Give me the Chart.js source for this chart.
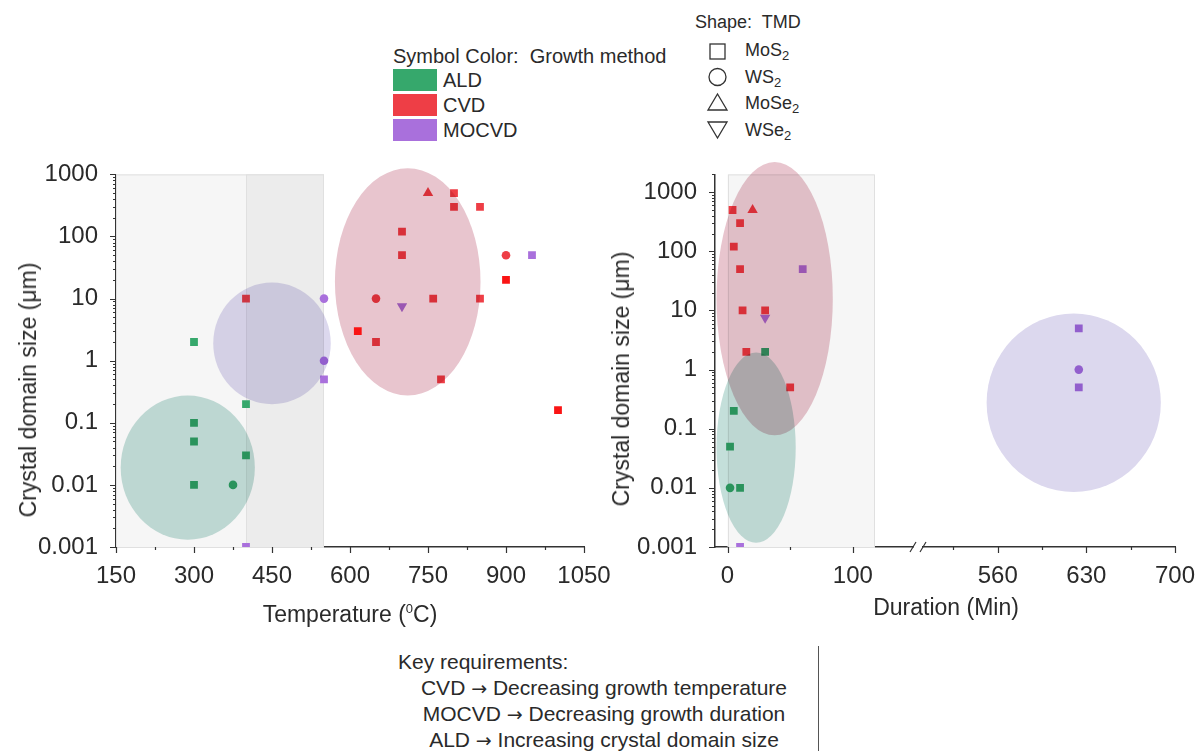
<!DOCTYPE html>
<html>
<head>
<meta charset="utf-8">
<script src="https://cdn.jsdelivr.net/npm/chart.js@4.4.0/dist/chart.umd.min.js"></script>
<style>
body { margin: 0; background: #fff; width: 1204px; height: 751px; overflow: hidden; position: relative;
       font-family: "Liberation Sans", Arial, sans-serif; color: #2a2a2a; }
.abs { position: absolute; white-space: nowrap; line-height: 24px; }
.box { position: absolute; width: 44px; height: 22px; }
.arr { font-family: "DejaVu Sans", sans-serif; font-size: 19px; }
sub { font-size: 13px; vertical-align: -4px; line-height: 0; }
sup { font-size: 13px; vertical-align: 9px; line-height: 0; }
canvas { position: absolute; }
</style>
</head>
<body>

<!-- legend: colour -->
<div class="abs" style="left:393px;top:44px;font-size:20px">Symbol Color:&nbsp; Growth method</div>
<div class="box" style="left:393px;top:69px;background:#36a86c"></div>
<div class="box" style="left:393px;top:94px;background:#ee3e46"></div>
<div class="box" style="left:393px;top:119px;background:#a970dc"></div>
<div class="abs" style="left:443px;top:68px;font-size:20px">ALD</div>
<div class="abs" style="left:443px;top:93px;font-size:20px">CVD</div>
<div class="abs" style="left:443px;top:118px;font-size:20px">MOCVD</div>

<!-- legend: shape -->
<div class="abs" style="left:695px;top:10px;font-size:18px">Shape:&nbsp; TMD</div>
<svg style="position:absolute;left:705px;top:38px" width="26" height="104">
  <rect x="5" y="6" width="15" height="15" fill="none" stroke="#333" stroke-width="1.3"/>
  <circle cx="12.5" cy="39" r="8.5" fill="none" stroke="#333" stroke-width="1.3"/>
  <polygon points="3,72 22,72 12.5,56" fill="none" stroke="#333" stroke-width="1.3"/>
  <polygon points="3,84 22,84 12.5,100" fill="none" stroke="#333" stroke-width="1.3"/>
</svg>
<div class="abs" style="left:745px;top:38px;font-size:18px">MoS<sub>2</sub></div>
<div class="abs" style="left:745px;top:65px;font-size:18px">WS<sub>2</sub></div>
<div class="abs" style="left:745px;top:91px;font-size:18px">MoSe<sub>2</sub></div>
<div class="abs" style="left:745px;top:118px;font-size:18px">WSe<sub>2</sub></div>

<canvas id="tempChart" width="620" height="500" style="left:0;top:150px;width:620px;height:500px"></canvas>
<canvas id="durChart" width="604" height="500" style="left:600px;top:150px;width:604px;height:500px"></canvas>

<!-- axis titles -->
<div class="abs" style="left:28px;top:390px;font-size:23px;transform:translate(-50%,-50%) rotate(-90deg)">Crystal domain size (&mu;m)</div>
<div class="abs" style="left:621px;top:379px;font-size:23px;transform:translate(-50%,-50%) rotate(-90deg)">Crystal domain size (&mu;m)</div>
<div class="abs" style="left:350px;top:614px;font-size:23px;transform:translate(-50%,-50%)">Temperature (<sup>0</sup>C)</div>
<div class="abs" style="left:946px;top:607px;font-size:23px;transform:translate(-50%,-50%)">Duration (Min)</div>

<!-- notes -->
<div class="abs" style="left:398px;top:650px;font-size:21px">Key requirements:</div>
<div class="abs" style="left:604px;top:675px;font-size:21px;line-height:25px;text-align:center;transform:translateX(-50%)">
CVD <span class="arr">&rarr;</span> Decreasing growth temperature<br>
MOCVD <span class="arr">&rarr;</span> Decreasing growth duration<br>
ALD <span class="arr">&rarr;</span> Increasing crystal domain size</div>
<div style="position:absolute;left:818px;top:646px;width:1px;height:105px;background:#555"></div>

<script>
// ticks -----------------------------------------
const sizeTicks = [0.001, 0.01, 0.1, 1, 10, 100, 1000];
const tempTicks = [150, 300, 450, 600, 750, 900, 1050];
const tempMinor = [225, 375, 525, 675, 825, 975];
const durTicksA = [0, 100];
const durMinorA = [50];
const durTicksB = [560, 630, 700];
const durMinorB = [525, 595, 665];

// temperature panel: [temperature C, domain size um]
const tempAldMoS2 = [[300, 2], [400, 0.2], [300, 0.1], [300, 0.05], [400, 0.03], [300, 0.01]];
const tempAldWS2 = [[375, 0.01]];
const tempCvdMoS2 = [[400, 10], [800, 500], [800, 300], [850, 300], [700, 120], [700, 50], [760, 10], [850, 10], [650, 2], [775, 0.5]];
const tempCvdWS2 = [[650, 10], [900, 50]];
const tempCvdMoSe2 = [[750, 500]];
const tempCvdFront = [[615, 3], [900, 20], [1000, 0.16]];   //drawn over the ovals
const tempMocvdMoS2 = [[550, 0.5], [950, 50], [400, 0.001]];
const tempMocvdWS2 = [[550, 10], [550, 1]];
const tempMocvdWSe2 = [[700, 7.5]];

// duration panel: [duration min, domain size um]
const durAldMoS2 = [[5, 0.2], [2, 0.05], [10, 0.01], [30, 2]];
const durAldWS2 = [[2, 0.01]];
const durCvdMoS2 = [[4, 500], [10, 300], [5, 120], [10, 50], [12, 10], [30, 10], [15, 2], [50, 0.5]];
const durCvdMoSe2 = [[20, 500]];
const durMocvdMoS2 = [[60, 50], [10, 0.001]];
const durMocvdWSe2 = [[30, 7.5]];
const durMocvdMoS2Long = [[624, 5], [624, 0.5]];
const durMocvdWS2Long = [[624, 1]];

// shaded windows [from, to]
const tempWindows = [[150, 550], [400, 550]];
const durWindows = [[0, 117]];

// ovals: [centre x, centre size, half width (x units), half height (decades)]
const tempOvalAld = [288, 0.019, 129, 1.16];
const tempOvalMocvd = [450, 1.9, 113, 0.98];
const tempOvalCvd = [711, 18.6, 140, 1.83];
const durOvalCvd = [37.6, 15.8, 46.4, 2.31];
const durOvalAld = [22.8, 0.048, 31.6, 1.61];
const durOvalMocvd = [620, 0.275, 68.8, 1.51];

const FONT = "'Liberation Sans', Arial, sans-serif";
const C = {ald: '#36a86c', cvd: '#ee3e46', cvdFront: '#fa1414', mocvd: '#a970dc'};
const OVAL = {ald: '#c4dfda', cvd: '#e8c5ce', mocvd: '#dcd8ee'};
const WINDOW = ['#f6f6f6', '#ececec'];

function ds(data, color, shape, xAxisID, order) {
    let r = 5.5, rot = 0;
    if (shape == 'circle') r = 4.3;
    if (shape == 'triangle') r = 6;
    if (shape == 'down') { shape = 'triangle'; r = 6; rot = 180; }
    return {
        data: data.map(p => ({x: p[0], y: p[1]})),
        backgroundColor: color, borderColor: color, borderWidth: 0,
        pointStyle: shape, pointRadius: r, pointRotation: rot,
        xAxisID: xAxisID || 'x', order: order === undefined ? 1 : order
    };
}

// shading, ovals (multiply, like the source), minor ticks, axis break
function decor(cfg) {
    function ovals(chart) {
        const ctx = chart.ctx, a = chart.chartArea, ys = chart.scales.y;
        ctx.save();
        ctx.beginPath(); ctx.rect(a.left, 0, chart.width - a.left, a.bottom); ctx.clip();
        ctx.globalCompositeOperation = 'multiply';
        cfg.ovals.forEach(o => {
            const xs = chart.scales[o.axis];
            const v = o.v;
            const cx = xs.getPixelForValue(v[0]);
            const rx = Math.abs(xs.getPixelForValue(v[0] + v[2]) - cx);
            const cy = ys.getPixelForValue(v[1]);
            const ry = Math.abs(ys.getPixelForValue(v[1] * Math.pow(10, v[3])) - cy);
            ctx.fillStyle = o.color;
            ctx.beginPath(); ctx.ellipse(cx, cy, rx, ry, 0, 0, Math.PI * 2); ctx.fill();
        });
        ctx.restore();
    }
    return {
        id: 'decor',
        beforeDatasetsDraw(chart) {
            const ctx = chart.ctx, a = chart.chartArea, xs = chart.scales[cfg.windowAxis];
            ctx.save();
            cfg.windows.forEach((w, i) => {
                const x0 = xs.getPixelForValue(w[0]), x1 = xs.getPixelForValue(w[1]);
                ctx.fillStyle = WINDOW[i];
                ctx.fillRect(x0, a.top, x1 - x0, a.bottom - a.top);
                ctx.strokeStyle = '#e0e0e0'; ctx.lineWidth = 1;
                ctx.strokeRect(Math.round(x0) + 0.5, a.top + 0.5, Math.round(x1 - x0) - 1, a.bottom - a.top);
            });
            ctx.restore();
        },
        beforeDatasetDraw(chart, args) {
            if (args.index === cfg.frontIndex) ovals(chart);
        },
        afterDatasetsDraw(chart) {
            if (cfg.frontIndex === undefined) ovals(chart);
        },
        afterDraw(chart) {
            const ctx = chart.ctx, a = chart.chartArea, ys = chart.scales.y;
            ctx.save();
            ctx.strokeStyle = '#333'; ctx.lineWidth = 1.2;
            ctx.beginPath();
            // y ticks
            for (let d = 0; d < sizeTicks.length; d++) {
                for (let m = 1; m < 10; m++) {
                    const v = sizeTicks[d] * m;
                    if (v > ys.max) continue;
                    const py = Math.round(ys.getPixelForValue(v)) + 0.5;
                    ctx.moveTo(a.left, py); ctx.lineTo(a.left - (m == 1 ? 6 : 3), py);
                }
            }
            // x ticks
            cfg.xticks.forEach(t => {
                const xs = chart.scales[t.axis];
                t.major.forEach(v => { const px = Math.round(xs.getPixelForValue(v)) + 0.5; ctx.moveTo(px, a.bottom); ctx.lineTo(px, a.bottom + 6); });
                t.minor.forEach(v => { const px = Math.round(xs.getPixelForValue(v)) + 0.5; ctx.moveTo(px, a.bottom); ctx.lineTo(px, a.bottom + 3); });
            });
            ctx.stroke();
            if (cfg.breakAxis) {
                const bx = chart.scales[cfg.breakAxis].right, by = a.bottom;
                ctx.fillStyle = '#fff';
                ctx.fillRect(bx - 4, by - 3, 8, 6);
                ctx.beginPath();
                ctx.moveTo(bx - 8, by + 5); ctx.lineTo(bx - 2, by - 5);
                ctx.moveTo(bx + 2, by + 5); ctx.lineTo(bx + 8, by - 5);
                ctx.stroke();
            }
            ctx.restore();
        }
    };
}

function sizeAxis(max, width) {
    return {
        type: 'logarithmic', min: 0.001, max: max,
        afterBuildTicks: s => { s.ticks = sizeTicks.map(v => ({value: v})); },
        afterFit: s => { s.width = width; },
        grid: {display: false},
        border: {display: true, color: '#333', width: 1.5},
        ticks: {font: {family: FONT, size: 24}, color: '#2a2a2a', padding: 10, callback: v => String(v)}
    };
}

function xAxis(min, max, ticks, extra) {
    return Object.assign({
        type: 'linear', min: min, max: max, position: 'bottom',
        afterBuildTicks: s => { s.ticks = ticks.map(v => ({value: v})); },
        afterFit: s => { s.height = 103; },
        grid: {display: false},
        border: {display: true, color: '#333', width: 1.5},
        ticks: {font: {family: FONT, size: 24}, color: '#2a2a2a', padding: 7, maxRotation: 0, autoSkip: false,
                callback: v => String(v)}
    }, extra || {});
}

const common = {
    responsive: false, animation: false, events: [],
    plugins: {legend: {display: false}, tooltip: {enabled: false}}
};

// TEMPERATURE -----------------------------------
const tempSets = [
    ds(tempAldMoS2, C.ald, 'rect'),
    ds(tempAldWS2, C.ald, 'circle'),
    ds(tempCvdMoS2, C.cvd, 'rect'),
    ds(tempCvdWS2, C.cvd, 'circle'),
    ds(tempCvdMoSe2, C.cvd, 'triangle'),
    ds(tempMocvdMoS2, C.mocvd, 'rect'),
    ds(tempMocvdWS2, C.mocvd, 'circle'),
    ds(tempMocvdWSe2, C.mocvd, 'down'),
    ds(tempCvdFront, C.cvdFront, 'rect', 'x', 0)
];
new Chart(document.getElementById('tempChart'), {
    type: 'scatter',
    data: {datasets: tempSets},
    options: Object.assign({}, common, {
        layout: {padding: {left: 0, top: 23, right: 36, bottom: 0}},
        scales: {x: xAxis(150, 1050, tempTicks), y: sizeAxis(1000, 116)}
    }),
    plugins: [decor({
        windows: tempWindows, windowAxis: 'x', frontIndex: tempSets.length - 1,
        ovals: [
            {v: tempOvalAld, color: OVAL.ald, axis: 'x'},
            {v: tempOvalMocvd, color: OVAL.mocvd, axis: 'x'},
            {v: tempOvalCvd, color: OVAL.cvd, axis: 'x'}
        ],
        xticks: [{axis: 'x', major: tempTicks, minor: tempMinor}]
    })]
});

// DURATION (broken x axis) ----------------------
new Chart(document.getElementById('durChart'), {
    type: 'scatter',
    data: {datasets: [
        ds(durAldMoS2, C.ald, 'rect'),
        ds(durAldWS2, C.ald, 'circle'),
        ds(durCvdMoS2, C.cvd, 'rect'),
        ds(durCvdMoSe2, C.cvd, 'triangle'),
        ds(durMocvdMoS2, C.mocvd, 'rect'),
        ds(durMocvdWSe2, C.mocvd, 'down'),
        ds(durMocvdMoS2Long, C.mocvd, 'rect', 'x2'),
        ds(durMocvdWS2Long, C.mocvd, 'circle', 'x2')
    ]},
    options: Object.assign({}, common, {
        layout: {padding: {left: 0, top: 23, right: 29, bottom: 0}},
        scales: {
            x: xAxis(-10, 152, durTicksA, {stack: 'dur', stackWeight: 203}),
            x2: xAxis(497, 700, durTicksB, {stack: 'dur', stackWeight: 257}),
            y: sizeAxis(2000, 115)
        }
    }),
    plugins: [decor({
        windows: durWindows, windowAxis: 'x', breakAxis: 'x',
        ovals: [
            {v: durOvalCvd, color: OVAL.cvd, axis: 'x'},
            {v: durOvalAld, color: OVAL.ald, axis: 'x'},
            {v: durOvalMocvd, color: OVAL.mocvd, axis: 'x2'}
        ],
        xticks: [{axis: 'x', major: durTicksA, minor: durMinorA}, {axis: 'x2', major: durTicksB, minor: durMinorB}]
    })]
});
</script>
</body>
</html>
